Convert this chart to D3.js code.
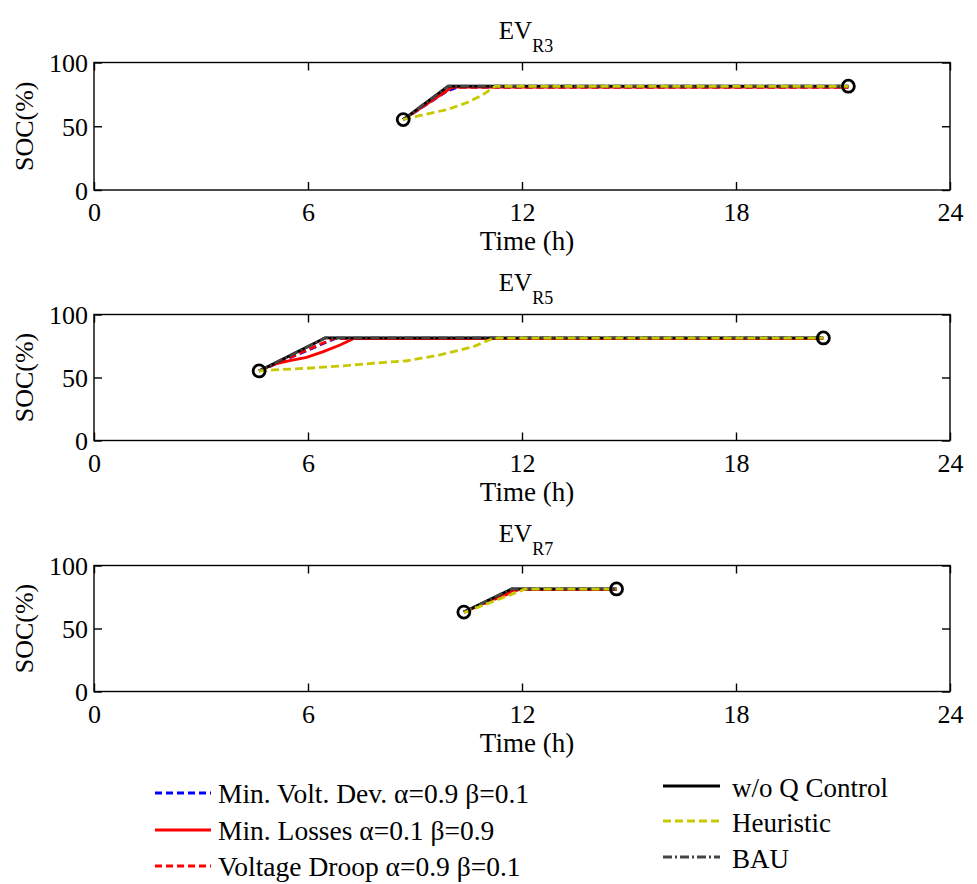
<!DOCTYPE html>
<html><head><meta charset="utf-8">
<script src="https://cdn.jsdelivr.net/npm/d3@7"></script>
<style>body{margin:0;background:#fff}svg text{font-family:"Liberation Serif","Times New Roman",serif;fill:#000}</style>
</head><body><svg id="c" width="977" height="884"></svg>
<script>
const panels = ["R3","R5","R7"];
const xTicks = [0,6,12,18,24];
const yTicks = [0,50,100];
// series per panel: [time(h), SOC(%)]
const minVolt = {
  R3: [[8.67,55.2],[9.9,77.6],[10.2,80.8],[21.15,80.8]],
  R5: [[4.63,55.2],[6.75,80.8],[20.45,80.8]],
  R7: [[10.37,63],[11.75,80.8],[14.65,80.8]]
};
const minLoss = {
  R3: [[8.67,55.2],[10.05,80.8],[21.15,80.8]],
  R5: [[4.63,55.2],[5.03,60.5],[5.49,63.3],[5.96,66],[6.43,70.5],[6.9,75.8],[7.27,80.8],[20.45,80.8]],
  R7: [[10.37,63],[11.8,80.8],[14.65,80.8]]
};
const droop = {
  R3: [[8.67,55.2],[10.0,80.8],[21.15,80.8]],
  R5: [[4.63,55.2],[6.7,80.8],[20.45,80.8]],
  R7: [[10.37,63],[11.9,80.8],[14.65,80.8]]
};
const woQ = {
  R3: [[8.67,55.2],[9.93,81.4],[21.15,81.4]],
  R5: [[4.63,55.2],[6.48,81.4],[20.45,81.4]],
  R7: [[10.37,63],[11.71,81.4],[14.65,81.4]]
};
const heuristic = {
  R3: [[8.67,55.2],[9.23,59],[9.89,63],[10.45,68.4],[10.92,75],[11.24,81.2],[21.15,81.2]],
  R5: [[4.63,55.2],[5.03,56],[5.96,57.3],[6.9,59.1],[7.83,61.3],[8.77,63.3],[9.7,67.9],[10.63,74.4],[11.2,81.2],[20.45,81.2]],
  R7: [[10.37,62.5],[12.08,81.2],[14.65,81.2]]
};
const bau = {
  R3: [[8.67,55.2],[9.93,81.4],[21.15,81.4]],
  R5: [[4.63,55.2],[6.48,81.4],[20.45,81.4]],
  R7: [[10.37,63],[11.71,81.4],[14.65,81.4]]
};

const series = [
  {name:"Min. Volt. Dev. α=0.9 β=0.1", data:minVolt, color:"#0000ff", dash:"7,4"},
  {name:"Min. Losses α=0.1 β=0.9", data:minLoss, color:"#ff0000", dash:null},
  {name:"Voltage Droop α=0.9 β=0.1", data:droop, color:"#ff0000", dash:"7,4"},
  {name:"w/o Q Control", data:woQ, color:"#000000", dash:null},
  {name:"BAU", data:bau, color:"#454545", dash:"9,3,2,3"},
  {name:"Heuristic", data:heuristic, color:"#c8c800", dash:"8,4"}
];

const svg = d3.select("#c");
const L = 94, W = 856;
const ranges = [[62.5,190],[314.5,440.5],[565.5,691.5]];
const x = d3.scaleLinear().domain([0,24]).range([L, L+W]);
const FT = 26, FL = 27;

panels.forEach((p,i)=>{
  const [top, bot] = ranges[i];
  const H = bot - top;
  const y = d3.scaleLinear().domain([0,100]).range([bot, top]);
  const g = svg.append("g");
  // title
  const t = g.append("text").attr("x", 526).attr("y", top-24).attr("text-anchor","middle").attr("font-size",25);
  t.append("tspan").text("EV");
  t.append("tspan").attr("font-size",18).attr("dy",13).text(p);
  // lines
  const line = d3.line().x(d=>x(d[0])).y(d=>y(d[1]));
  series.forEach(s=>{
    g.append("path").attr("d", line(s.data[p])).attr("fill","none")
      .attr("stroke", s.color).attr("stroke-width", 2.8)
      .attr("stroke-dasharray", s.dash);
  });
  // circles
  const d0 = woQ[p];
  [d0[0], d0[d0.length-1]].forEach(pt=>{
    g.append("circle").attr("cx",x(pt[0])).attr("cy",y(pt[1])).attr("r",6)
      .attr("fill","none").attr("stroke","#000").attr("stroke-width",2.8);
  });
  // box
  g.append("rect").attr("x",L).attr("y",top).attr("width",W).attr("height",H)
    .attr("fill","none").attr("stroke","#000").attr("stroke-width",1.4);
  // axes
  const ax = g.append("g").attr("transform",`translate(0,${bot})`)
    .call(d3.axisBottom(x).tickValues(xTicks).tickSize(-8).tickPadding(0));
  const ax2 = g.append("g").attr("transform",`translate(0,${top})`)
    .call(d3.axisTop(x).tickValues(xTicks).tickSize(-8).tickFormat(""));
  const ay = g.append("g").attr("transform",`translate(${L},0)`)
    .call(d3.axisLeft(y).tickValues(yTicks).tickSize(-8).tickPadding(6));
  const ay2 = g.append("g").attr("transform",`translate(${L+W},0)`)
    .call(d3.axisRight(y).tickValues(yTicks).tickSize(-8).tickFormat(""));
  [ax,ax2,ay,ay2].forEach(a=>{
    a.attr("font-family",null);
    a.select(".domain").remove();
    a.selectAll("line").attr("stroke","#000").attr("stroke-width",1.4);
    a.selectAll("text").attr("font-size",FT).attr("fill","#000");
  });
  ay.selectAll("text").attr("dy","0.35em");
  ax.selectAll("text").attr("y",31).attr("dy",null);
  // axis labels
  g.append("text").attr("x",527).attr("y",bot+60).attr("text-anchor","middle").attr("font-size",FL).text("Time (h)");
  g.append("text").attr("transform",`translate(33,${(top+bot)/2}) rotate(-90)`).attr("text-anchor","middle").attr("font-size",FT).text("SOC(%)");
});

// legend
const legLeft = [series[0], series[1], series[2]];
const legRight = [series[3], series[5], series[4]];
const leftY = [793, 830, 866], rightY = [786, 821, 857];
legLeft.forEach((s,i)=>{
  svg.append("line").attr("x1",155).attr("x2",211).attr("y1",leftY[i]).attr("y2",leftY[i])
    .attr("stroke",s.color).attr("stroke-width",2.8).attr("stroke-dasharray",s.dash);
  svg.append("text").attr("x",218).attr("y",leftY[i]+10).attr("font-size",27.5).text(s.name);
});
legRight.forEach((s,i)=>{
  svg.append("line").attr("x1",663).attr("x2",720).attr("y1",rightY[i]).attr("y2",rightY[i])
    .attr("stroke",s.color).attr("stroke-width",2.8).attr("stroke-dasharray",s.dash);
  svg.append("text").attr("x",732).attr("y",rightY[i]+11).attr("font-size",FL).text(s.name);
});
</script></body></html>
